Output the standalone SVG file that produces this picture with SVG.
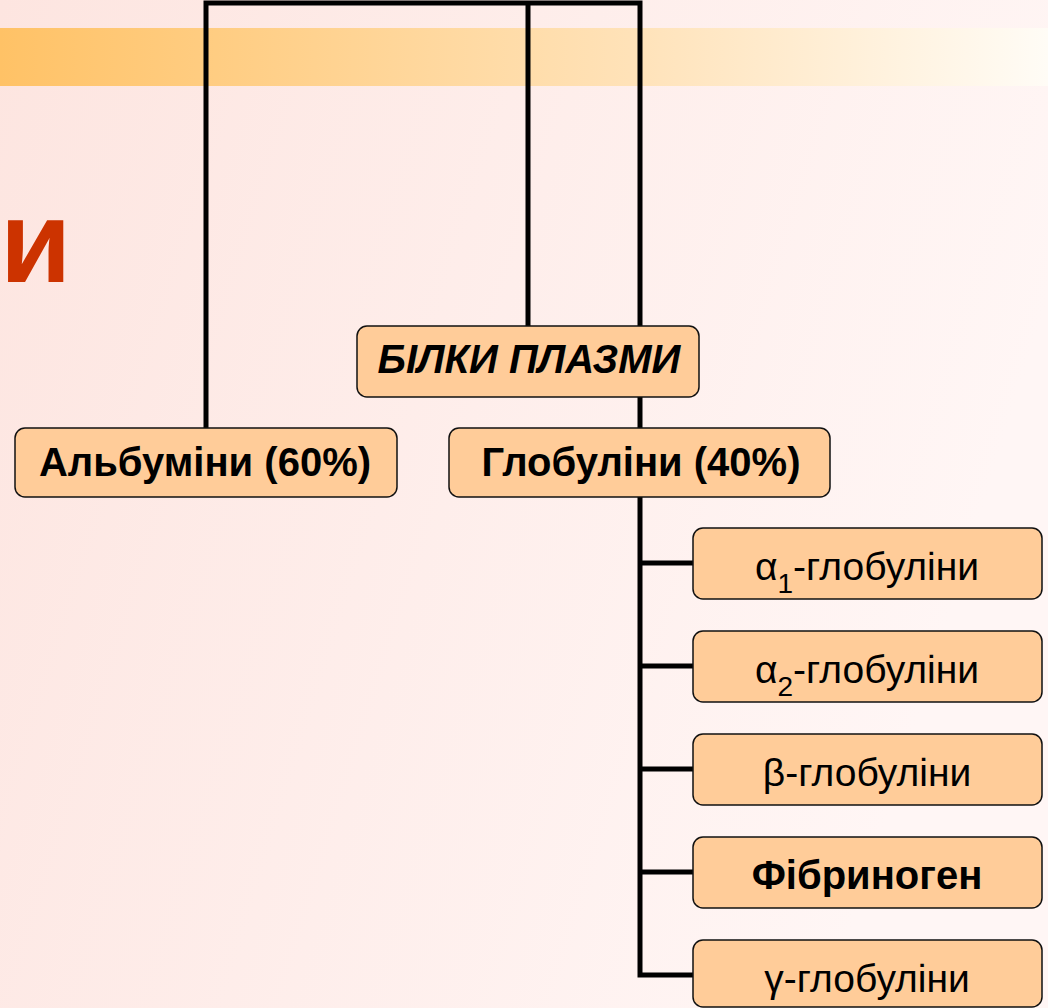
<svg xmlns="http://www.w3.org/2000/svg" width="1048" height="1008" viewBox="0 0 1048 1008">
<defs>
<linearGradient id="bg" x1="0" y1="0" x2="1" y2="0.3">
<stop offset="0" stop-color="#fde5e0"/>
<stop offset="1" stop-color="#fff6f5"/>
</linearGradient>
<linearGradient id="band" x1="0" y1="0" x2="1" y2="0">
<stop offset="0" stop-color="#ffc266"/>
<stop offset="0.6" stop-color="#ffe2b8"/>
<stop offset="1" stop-color="#fffcf6"/>
</linearGradient>
<style>
.box{fill:#ffcc99;stroke:#111;stroke-width:1.5}
.t{font-family:"Liberation Sans",Arial,sans-serif;font-size:39px;fill:#000;text-anchor:middle}
.b{font-weight:bold;font-size:40px}
.c{stroke:#000;stroke-width:5;fill:none}
</style>
</defs>
<rect width="1048" height="1008" fill="url(#bg)"/>
<rect x="0" y="28" width="1048" height="58" fill="url(#band)"/>
<text x="0" y="282" font-family="Liberation Sans,Arial,sans-serif" font-weight="bold" font-size="116" fill="#cc3300">и</text>
<g id="connectors">
<polyline class="c" points="206,428 206,3 640,3 640,975 693,975"/>
<line class="c" x1="528" y1="3" x2="528" y2="326"/>
<line class="c" x1="640" y1="563" x2="693" y2="563"/>
<line class="c" x1="640" y1="666" x2="693" y2="666"/>
<line class="c" x1="640" y1="769" x2="693" y2="769"/>
<line class="c" x1="640" y1="872" x2="693" y2="872"/>
</g>
<g id="root">
<rect class="box" x="357" y="326" width="342" height="71" rx="10"/>
<text class="t b" x="529" y="373" font-style="italic" font-size="39">БІЛКИ ПЛАЗМИ</text>
</g>
<g id="albumin">
<rect class="box" x="15" y="428" width="382" height="69" rx="10"/>
<text class="t b" x="205" y="476">Альбуміни (60%)</text>
</g>
<g id="globulin">
<rect class="box" x="449" y="428" width="381" height="69" rx="10"/>
<text class="t b" x="641" y="476">Глобуліни (40%)</text>
</g>
<g id="alpha1">
<rect class="box" x="693" y="528" width="349" height="71" rx="10"/>
<text class="t" x="867" y="580">α<tspan font-size="28" dy="13">1</tspan><tspan dy="-13">-глобуліни</tspan></text>
</g>
<g id="alpha2">
<rect class="box" x="693" y="631" width="349" height="71" rx="10"/>
<text class="t" x="867" y="683">α<tspan font-size="28" dy="13">2</tspan><tspan dy="-13">-глобуліни</tspan></text>
</g>
<g id="beta">
<rect class="box" x="693" y="734" width="349" height="71" rx="10"/>
<text class="t" x="867" y="786">β-глобуліни</text>
</g>
<g id="fibrinogen">
<rect class="box" x="693" y="837" width="349" height="71" rx="10"/>
<text class="t b" x="867" y="889" font-size="39">Фібриноген</text>
</g>
<g id="gamma">
<rect class="box" x="693" y="940" width="349" height="67" rx="10"/>
<text class="t" x="867" y="992">γ-глобуліни</text>
</g>
</svg>
